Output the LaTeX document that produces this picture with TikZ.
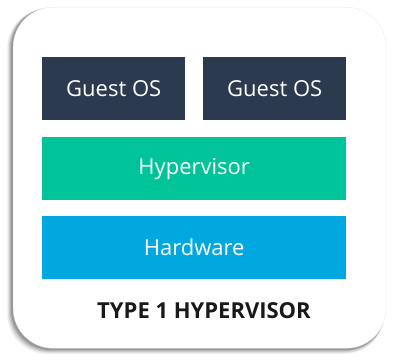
\documentclass[tikz,border=0pt]{standalone}
\usepackage{fontspec}
\setmainfont{Open Sans}
\definecolor{navy}{HTML}{2B3A4F}
\definecolor{hypgreen}{HTML}{00C39A}
\definecolor{hwblue}{HTML}{00A8DF}
\begin{document}
\begin{tikzpicture}[x=1pt,y=1pt,
  layer/.style={minimum height=63pt, inner sep=0pt, text=white, font=\fontsize{22}{26}\selectfont, anchor=north west},
  guest/.style={layer, fill=navy, minimum width=143pt},
  wide/.style={layer, minimum width=304pt}]
\useasboundingbox (0,0) rectangle (393,362);
% shadow
\foreach \o/\a in {6/0.05,5/0.07,4/0.09,3/0.12,2/0.15}{
  \fill[black, opacity=\a, rounded corners=40pt] (13-\o,14-\o) rectangle (386-0.3*\o,355-0.3*\o);
}
\node[draw=black!8, fill=white, rounded corners=40pt, minimum width=373pt, minimum height=341pt, anchor=north west, inner sep=0pt] (card) at (13,355) {};
\node[guest] (g1) at (42,305) {Guest OS};
\node[guest] (g2) at (203,305) {Guest OS};
\node[wide, fill=hypgreen] (hyp) at (42,225) {Hypervisor};
\node[wide, fill=hwblue] (hw) at (42,146) {Hardware};
\node[font=\bfseries\fontsize{22}{25}\selectfont, text=black!90] (title) at (204,51) {TYPE 1 HYPERVISOR};
\end{tikzpicture}
\end{document}
